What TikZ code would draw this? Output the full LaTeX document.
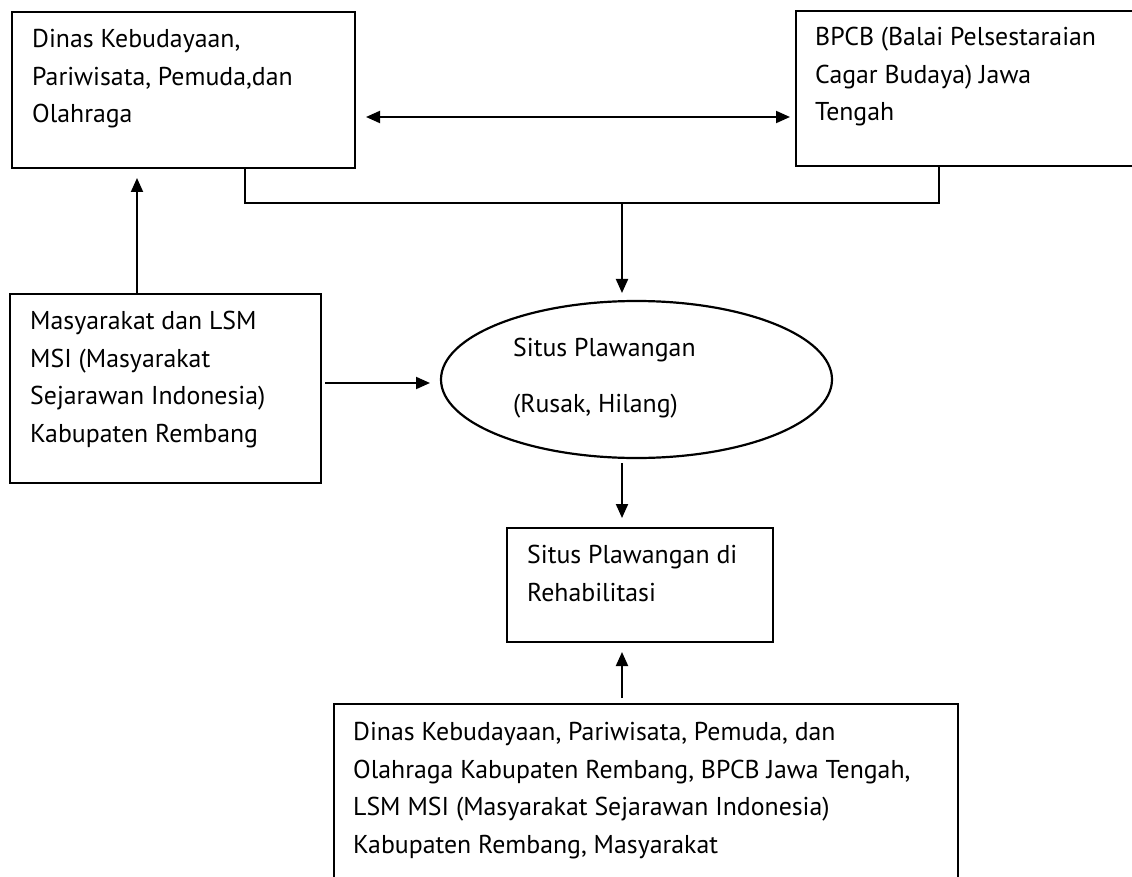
\documentclass[tikz,border=0pt]{standalone}
\usepackage{fontspec}
\setmainfont{PT Sans}
\usetikzlibrary{arrows.meta,shapes.geometric,calc}
\begin{document}
\begin{tikzpicture}[x=1pt,y=-1pt,
  box/.style={draw,line width=2.2pt,rectangle,inner sep=0pt,outer sep=0pt,anchor=north west},
  txt/.style={anchor=base west,inner sep=0pt,align=left,font=\fontsize{25.8}{37.5}\selectfont},
  arr/.style={line width=2pt,-{Triangle[length=14pt,width=12pt]}},
  darr/.style={line width=2pt,{Triangle[length=14pt,width=12pt]}-{Triangle[length=14pt,width=12pt]}},
  conn/.style={line width=2pt}]
\useasboundingbox (0,0) rectangle (1132,877);
% boxes
\node[box,minimum width=343pt,minimum height=156pt] (b1) at (12,12) {};
\node[box,minimum width=344pt,minimum height=155pt] (b2) at (796,11) {};
\node[box,minimum width=311pt,minimum height=189pt] (b3) at (10,294) {};
\node[draw,ellipse,line width=2.2pt,minimum width=391pt,minimum height=157pt,inner sep=0pt,outer sep=0pt] (el) at (636.5,379.5) {};
\node[box,minimum width=266pt,minimum height=114pt] (b4) at (507,528) {};
\node[box,minimum width=624pt,minimum height=200pt] (b5) at (334,704) {};
% texts (base anchor = baseline of last line)
\node[txt] (t1) at (32,123) {Dinas Kebudayaan,\\Pariwisata, Pemuda,dan\\Olahraga};
\node[txt] (t2) at (815,121) {BPCB (Balai Pelsestaraian\\Cagar Budaya) Jawa\\Tengah};
\node[txt] (t3) at (30,442) {Masyarakat dan LSM\\MSI (Masyarakat\\Sejarawan Indonesia)\\Kabupaten Rembang};
\node[txt] (t4a) at (513,356) {Situs Plawangan};
\node[txt] (t4b) at (513,412) {(Rusak, Hilang)};
\node[txt] (t5) at (527,601) {Situs Plawangan di\\Rehabilitasi};
\node[txt] (t6) at (353,853) {Dinas Kebudayaan, Pariwisata, Pemuda, dan\\Olahraga Kabupaten Rembang, BPCB Jawa Tengah,\\LSM MSI (Masyarakat Sejarawan Indonesia)\\Kabupaten Rembang, Masyarakat};
% connectors
\coordinate (j) at (622,203);
\draw[darr,shorten <=11pt,shorten >=6pt] ([yshift=-27pt]b1.east) -- ([yshift=-27pt]b1.east -| b2.west);
\draw[conn] ([xshift=61.5pt]b1.south) |- (j) -| ([xshift=-29pt]b2.south);
\draw[arr,shorten >=8pt] (j) -- (j |- el.north);
\draw[arr,shorten >=10pt] ([xshift=-28.5pt]b3.north) -- ([xshift=-28.5pt]b3.north |- b1.south);
\draw[arr,shorten <=4pt,shorten >=11pt] ([yshift=5.5pt]b3.east) -- ([yshift=5.5pt]b3.east -| el.west);
\draw[arr,shorten <=5pt,shorten >=10pt] (j |- el.south) -- (j |- b4.north);
\draw[arr,shorten <=6pt,shorten >=10pt] (j |- b5.north) -- (j |- b4.south);
\end{tikzpicture}
\end{document}
